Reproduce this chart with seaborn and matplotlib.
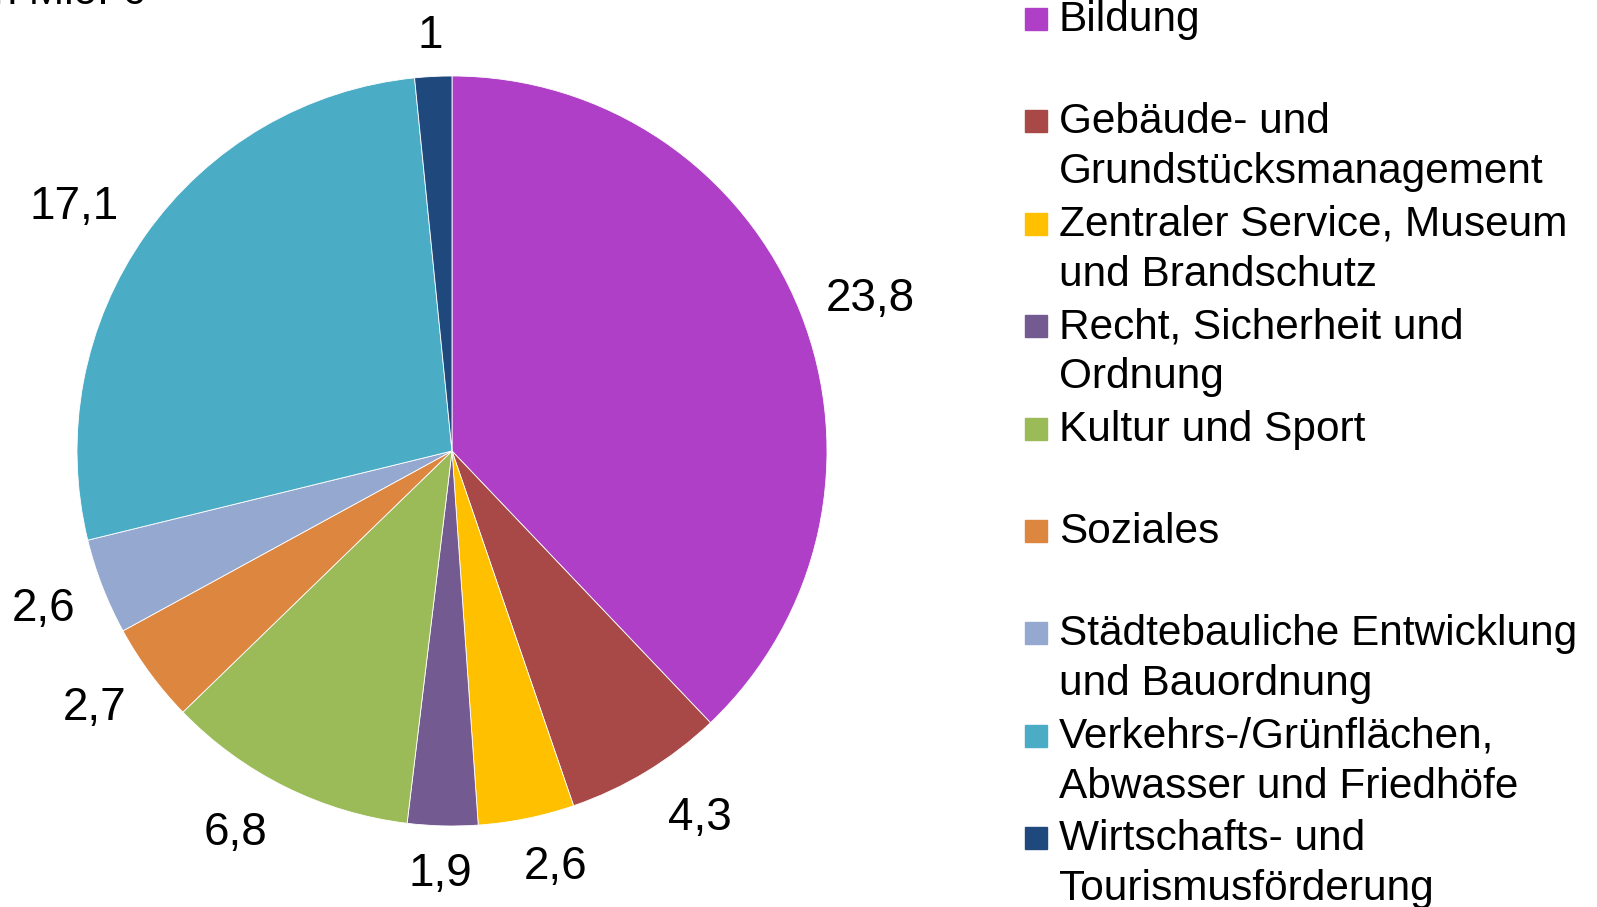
import matplotlib
matplotlib.use("Agg")
import numpy as np
import matplotlib.pyplot as plt
import seaborn as sns
from matplotlib.patches import Rectangle

categories = ["Bildung",
              "Gebäude- und\nGrundstücksmanagement",
              "Zentraler Service, Museum\nund Brandschutz",
              "Recht, Sicherheit und\nOrdnung",
              "Kultur und Sport",
              "Soziales",
              "Städtebauliche Entwicklung\nund Bauordnung",
              "Verkehrs-/Grünflächen,\nAbwasser und Friedhöfe",
              "Wirtschafts- und\nTourismusförderung"]
values = [23.8, 4.3, 2.6, 1.9, 6.8, 2.7, 2.6, 17.1, 1]
colors = ["#AF3FC7", "#A84947", "#FFC000", "#735A90", "#9BBB59",
          "#DD8640", "#95A9D0", "#4BACC6", "#1F497D"]
# label placement: distance (pie radii) and clockwise nudge (degrees)
label_dist = [1.19, 1.173, 1.136, 1.12, 1.165, 1.168, 1.164, 1.204, 1.117]
label_nudge = [1.4, -3.0, -2.6, 0.2, 3.4, 1.0, 0.4, -2.1, -0.1]

sns.set_theme(style="white")
plt.rcParams['font.family'] = ['Liberation Sans', 'DejaVu Sans']
plt.rcParams['text.color'] = 'black'

W, H = 1597, 907
fig = plt.figure(figsize=(W / 100, H / 100), dpi=100)

cx, cy, r = 452, 451, 375
ax = fig.add_axes([(cx - r) / W, (H - cy - r) / H, 2 * r / W, 2 * r / H])

palette = sns.color_palette(colors)
labels = [f"{v:g}".replace('.', ',') for v in values]
wedges, texts = ax.pie(values, colors=palette, startangle=90, counterclock=False,
                       labels=labels, labeldistance=1.17,
                       wedgeprops=dict(edgecolor='white', linewidth=0.6),
                       textprops=dict(fontsize=33, color='black'))
for w, t, d, n in zip(wedges, texts, label_dist, label_nudge):
    ang = np.deg2rad((w.theta1 + w.theta2) / 2 - n)
    t.set_position((d * np.cos(ang), d * np.sin(ang) - 0.008))
    t.set_ha('center')
    t.set_va('center')
ax.set_xlim(-1, 1)
ax.set_ylim(-1, 1)
ax.set_aspect('equal')
ax.axis('off')

fig.text(-16 / W, 1 - 4 / H, "in Mio. €", fontsize=30.5, va='baseline', ha='left')

# legend drawn by hand so the marker sits on the first line
pitch = 102.4
for i, (lab, col) in enumerate(zip(categories, palette)):
    base = 31 + i * pitch
    fig.add_artist(Rectangle((1025 / W, 1 - (base - 1) / H), 22 / W, 22 / H,
                             transform=fig.transFigure, color=col))
    for k, line in enumerate(lab.split("\n")):
        fig.text(1059 / W, 1 - (base + 50 * k) / H, line, fontsize=30.5, va='baseline')

fig.savefig("out.png", dpi=100)
